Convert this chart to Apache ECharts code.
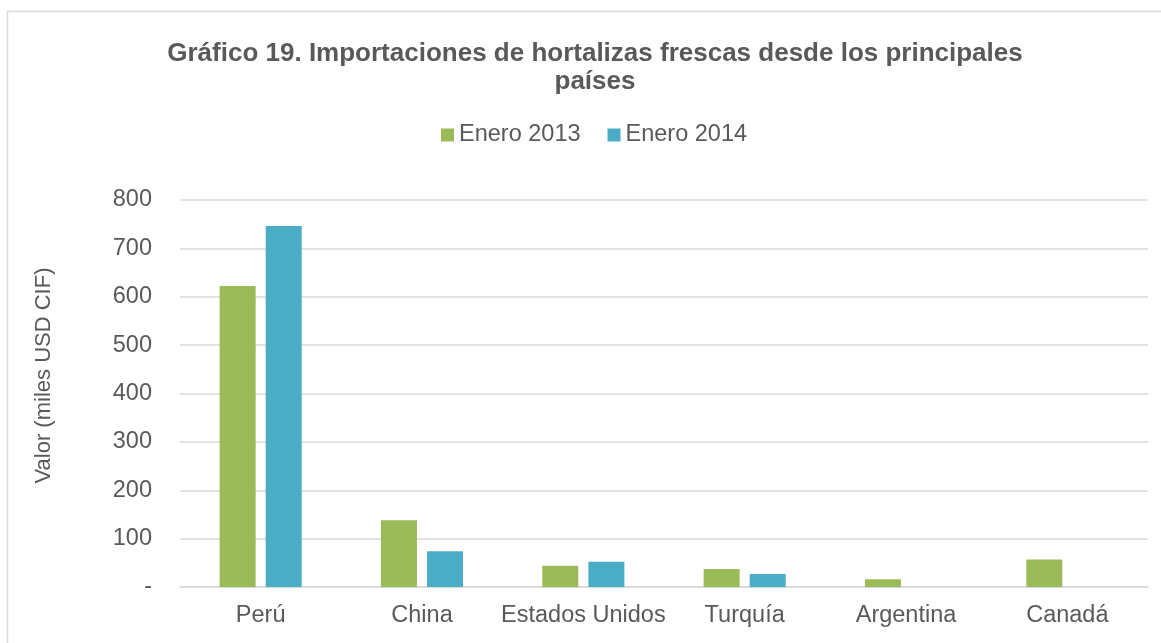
<!DOCTYPE html>
<html>
<head>
<meta charset="utf-8">
<script src="https://cdn.jsdelivr.net/npm/echarts@6/dist/echarts.min.js"></script>
<style>
  html, body { margin: 0; padding: 0; background: #fff; }
  #chart { width: 1161px; height: 643px; }
</style>
</head>
<body>
<div id="chart"></div>
<script>
// datos (miles USD CIF)
var paises = ['Perú', 'China', 'Estados Unidos', 'Turquía', 'Argentina', 'Canadá'];
var enero2013 = [622, 138, 44, 37, 16, 57];
var enero2014 = [746, 74, 52, 27, 0, 0];
var yTicks = [0, 100, 200, 300, 400, 500, 600, 700, 800];

var chart = echarts.init(document.getElementById('chart'));
var gris = '#595959';

var option = {
    animation: false,
    textStyle: { fontFamily: 'Liberation Sans, Arial, sans-serif' },
    title: {
        text: 'Gráfico 19. Importaciones de hortalizas frescas desde los principales\npaíses',
        left: 590,
        top: 35,
        textAlign: 'center',
        textStyle: { color: gris, fontSize: 26, fontWeight: 'bold', lineHeight: 28 }
    },
    legend: {
        data: ['Enero 2013', 'Enero 2014'],
        top: 118,
        left: 436,
        itemWidth: 13,
        itemHeight: 13,
        itemGap: 27,
        icon: 'rect',
        selectedMode: false,
        textStyle: { color: gris, fontSize: 23.5 }
    },
    grid: { left: 180, right: 13, top: 200, bottom: 56 },
    xAxis: {
        type: 'category',
        data: paises,
        axisTick: { show: false },
        axisLine: { lineStyle: { color: '#d9d9d9', width: 1.5 } },
        axisLabel: { color: gris, fontSize: 23.5, margin: 17, interval: 0 }
    },
    yAxis: {
        type: 'value',
        min: yTicks[0],
        max: yTicks[yTicks.length - 1],
        interval: 100,
        name: 'Valor (miles USD CIF)',
        nameLocation: 'middle',
        nameGap: 125,
        nameTextStyle: { color: gris, fontSize: 22, padding: [0, 0, 0, 36] },
        axisLine: { show: false },
        axisTick: { show: false },
        splitLine: { lineStyle: { color: '#d9d9d9', width: 1.5 } },
        axisLabel: {
            color: gris,
            fontSize: 23.5,
            margin: 28,
            formatter: function (v) { return v === 0 ? '-' : v; }
        }
    },
    series: [{
        name: 'Enero 2013',
        type: 'bar',
        data: enero2013,
        barWidth: 36,
        barGap: '28%',
        itemStyle: { color: '#9BBB59' }
    }, {
        name: 'Enero 2014',
        type: 'bar',
        data: enero2014,
        barWidth: 36,
        itemStyle: { color: '#4BACC6' }
    }],
    graphic: [{
        type: 'rect',
        silent: true,
        shape: { x: 7.5, y: 11.5, width: 1300, height: 800 },
        style: { fill: 'none', stroke: '#d9d9d9', lineWidth: 1.5 }
    }]
};
chart.setOption(option);
</script>
</body>
</html>
